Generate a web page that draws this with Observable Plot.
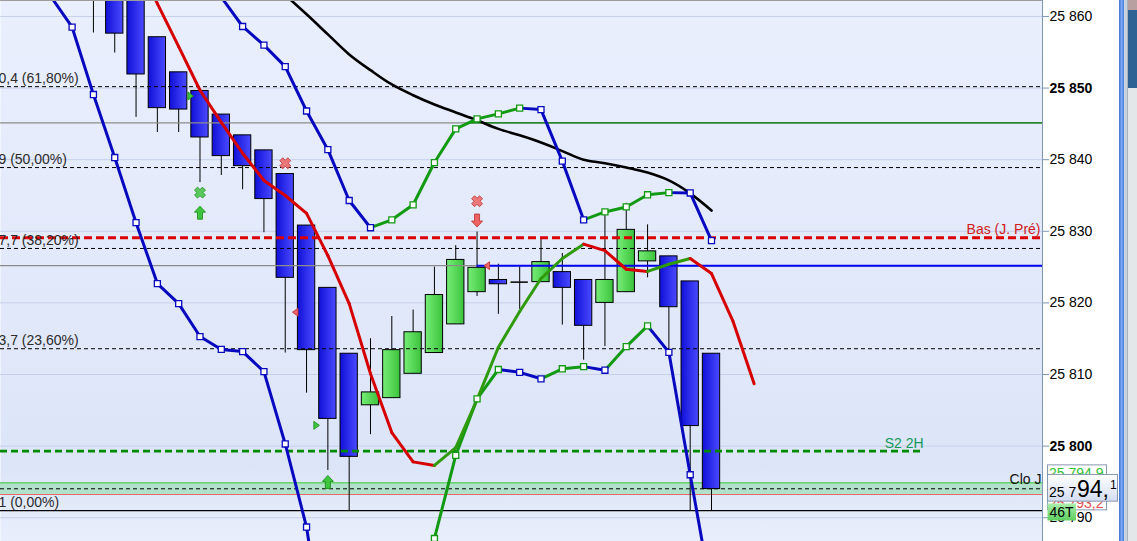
<!DOCTYPE html>
<html>
<head>
<meta charset="utf-8">
<script src="https://cdn.jsdelivr.net/npm/d3@7"></script>
<script src="https://cdn.jsdelivr.net/npm/@observablehq/plot@0.6"></script>
<style>
html,body{margin:0;padding:0;background:#fff;overflow:hidden;}
#wrap{position:relative;width:1137px;height:541px;overflow:hidden;}
#wrap svg{display:block;position:absolute;left:0;top:0;}
.deco{position:absolute;top:0;height:541px;}
</style>
</head>
<body>
<div id="wrap">
<div class="deco" style="left:1119px;width:5px;background:linear-gradient(to right,#3d70d6,#7aa6f2,#4a7ee0);z-index:2"></div>
<div class="deco" style="left:1124px;width:3px;background:#c9d2dc;z-index:2"></div>
<div class="deco" style="left:1127px;width:10px;background:#e4e7ea;border-left:1px solid #a8b0b8;box-sizing:border-box;z-index:2"></div>
<div style="position:absolute;left:1128px;top:10px;width:9px;height:78px;background:#2d6394;z-index:3"></div>
<div style="position:absolute;left:1128px;top:0;width:9px;height:10px;background:#b9a0a0;z-index:3"></div>
</div>
<script>
// ---------- DATA ----------
const candleIndex = [0,1,2,3,4,5,6,7,8,9,10,11,12,13,14,15,16,17,18,19,20,21,22,23,24,25,26,27,28,29];
const openVals  = [25866,25866,25864,25857.1,25852.2,25849.6,25846.3,25843.4,25841.3,25838.0,25830.8,25822.1,25812.9,25805.7,25806.7,25810.1,25813.0,25817.0,25821.5,25823.2,25822.9,25822.9,25824.3,25823.2,25820.0,25821.5,25825.8,25826.5,25823.0,25812.9];
const closeVals = [25863,25857.6,25851.9,25847.2,25847.0,25843.1,25840.5,25839.1,25834.5,25823.5,25813.4,25803.8,25798.5,25807.5,25813.4,25815.9,25821.1,25826.0,25824.9,25822.6,25822.9,25825.7,25822.1,25816.8,25823.2,25830.2,25827.2,25819.4,25802.8,25794.0];
const highVals  = [25867,25867,25865,25857.1,25852.2,25849.6,25846.3,25843.4,25841.3,25838.0,25830.8,25822.1,25812.9,25815.0,25818.1,25819.0,25825.0,25828.0,25829.9,25825.4,25825.0,25828.9,25826.9,25823.2,25832.7,25833.9,25830.9,25826.5,25823.0,25812.9];
const lowVals   = [25857.7,25854.9,25845.9,25843.8,25843.8,25836.8,25837.8,25835.8,25829.8,25813.0,25807.4,25796.6,25791.0,25801.6,25806.7,25810.1,25813.0,25817.0,25820.9,25818.4,25819.1,25822.9,25816.9,25812.0,25813.9,25821.5,25823.5,25813.3,25791.0,25791.0];

const lowerBandStart = -2;
const lowerBand = [25862.8,25858.5,25849.1,25840.3,25831.2,25822.7,25819.9,25815.3,25813.5,25813.2,25810.4,25800.3,25788.7,25769,25767,25770,25775,25783.2,25787.1,25798.7,25806.6,25810.7,25810.3,25809.4,25810.8,25811.1,25810.6,25813.9,25816.8,25813.1,25796.0,25779.4];
const upperBandStart = 6;
const upperBand = [25862.7,25858.6,25856.0,25853.0,25846.8,25841.4,25834.3,25830.5,25831.6,25833.7,25839.6,25844.3,25845.7,25846.4,25847.2,25847.0,25839.8,25831.6,25832.7,25833.4,25835.1,25835.4,25835.35,25828.7];
const maStart = 2;
const maVals = [25867.9,25861.8,25855.8,25849.7,25845.2,25840.9,25837.1,25835.0,25832.5,25826.6,25819.9,25810.1,25801.9,25797.8,25797.3,25799.8,25806.5,25813.8,25818.8,25823.4,25826.2,25828.2,25827.3,25824.7,25824.4,25825.4,25826.2,25824.1,25817.5,25808.7];
const longMaStart = 9;
const longMa = [25863.0,25860.3,25857.5,25854.7,25852.5,25850.5,25849.0,25847.7,25846.6,25845.5,25844.3,25843.4,25842.4,25841.2,25840.0,25839.5,25838.9,25838.2,25837.1,25835.3,25832.9];

const fibValues = [25850.2, 25838.9, 25827.6, 25813.6];
const fibLabels = ["0,4 (61,80%)", "9 (50,00%)", "7,7 (38,20%)", "3,7 (23,60%)"];
const zeroValue = 25791.0;
const zeroLabel = "1 (0,00%)";
const prevLowValue = 25829.1;
const prevLowLabel = "Bas (J. Pré)";
const s2Value = 25799.3;
const s2Label = "S2 2H";
const s2End = 38.95;
const pivotValue = 25845.15;
const pivotGreenStart = 17.7;
const blueLevelValue = 25825.2;
const blueLevelStart = 18;
const closeBandLow = 25793.24;
const closeBandHigh = 25794.87;
const closeDashed = 25794.04;
const closeLabel = "Clo J";

const yTicks = [25790,25800,25810,25820,25830,25840,25850,25860];
const boldTickLabels = ["25 800", "25 850"];
const lastPrice = 25794.1;
const priceMain = "25 7", priceBig = "94,", priceSup = "1";
const greenTag = "25 794,9", redTag = "25 793,2", countTag = "46T";

const markerX    = [4.55, 5, 5, 9, 9.48, 10.46, 11, 18, 18, 18.47];
const markerY    = [25848.9, 25835.4, 25832.6, 25839.5, 25818.7, 25802.9, 25795.0, 25834.2, 25831.5, 25825.2];
const markerKind = ["triRight","cross","arrowUp","cross","triLeft","triRight","arrowUp","cross","arrowDown","triLeft"];
const markerSide = ["buy","buy","buy","sell","sell","buy","buy","sell","sell","sell"];

const xDomain = [-4.36, 44.53];
const yDomain = [25786.68, 25862.23];

// ---------- BUILD ----------
const candles = candleIndex.map((i, k) => ({i, o: openVals[k], c: closeVals[k], h: highVals[k], l: lowVals[k]}));
const BLUE_BAND = "#0808bf", GREEN_BAND = "#139a13", MA_RED = "#d60000", MA_GREEN = "#2f9a0c";

function toSegments(start, vals, up, down) {
  const s = [];
  for (let k = 1; k < vals.length; k++)
    s.push({x1: start + k - 1, y1: vals[k - 1], x2: start + k, y2: vals[k], c: vals[k] >= vals[k - 1] ? up : down});
  return s;
}
function toPoints(start, vals, up, down) {
  return vals.map((v, k) => ({x: start + k, y: v, c: k === 0 ? down : (v >= vals[k - 1] ? up : down)}));
}
const lowerSegs = toSegments(lowerBandStart, lowerBand, GREEN_BAND, BLUE_BAND);
const upperSegs = toSegments(upperBandStart, upperBand, GREEN_BAND, BLUE_BAND);
const maSegs = toSegments(maStart, maVals, MA_GREEN, MA_RED);
const bandPts = toPoints(lowerBandStart, lowerBand, GREEN_BAND, BLUE_BAND).concat(toPoints(upperBandStart, upperBand, GREEN_BAND, BLUE_BAND));
const longPts = longMa.map((v, k) => ({x: longMaStart + k, y: v}));
const fibLevels = fibValues.map((v, k) => ({v, label: fibLabels[k]}));
const markers = markerX.map((x, k) => ({x, y: markerY[k], kind: markerKind[k], side: markerSide[k]}));

const poly = pts => ({draw(ctx) { ctx.moveTo(pts[0][0], pts[0][1]); for (const p of pts.slice(1)) ctx.lineTo(p[0], p[1]); ctx.closePath(); }});
const arrowUp = poly([[0,-6.5],[5.5,-0.5],[2.5,-0.5],[2.5,6.5],[-2.5,6.5],[-2.5,-0.5],[-5.5,-0.5]]);
const arrowDown = poly([[0,6.5],[5.5,0.5],[2.5,0.5],[2.5,-6.5],[-2.5,-6.5],[-2.5,0.5],[-5.5,0.5]]);
const triRight = poly([[-2.5,-4],[3,0],[-2.5,4]]);
const triLeft = poly([[2.5,-4],[-3,0],[2.5,4]]);
const crossPts = (() => {
  const a = 2.1, L = 5.6, r = Math.SQRT1_2;
  const p = [[a,-L],[a,-a],[L,-a],[L,a],[a,a],[a,L],[-a,L],[-a,a],[-L,a],[-L,-a],[-a,-a],[-a,-L]];
  return p.map(([x, y]) => [(x - y) * r, (x + y) * r]);
})();
const crossSym = poly(crossPts);
const symOf = {arrowUp, arrowDown, triRight, triLeft, cross: crossSym};
const fillOf = {buy: "#3fc63f", sell: "#ec6464"};
const strokeOf = {buy: "#1f8f1f", sell: "#c23a3a"};

const fmt = d3.formatLocale({decimal: ",", thousands: " ", grouping: [3], currency: ["", ""]}).format(",");

const markerMarks = Object.keys(symOf).map(kind => Plot.dot(markers.filter(m => m.kind === kind), {
  x: "x", y: "y", symbol: symOf[kind], r: 5,
  fill: d => fillOf[d.side], stroke: d => strokeOf[d.side], strokeWidth: 0.9,
  fillOpacity: kind === "cross" ? 0.85 : 1, clip: true
}));

const plot = Plot.plot({
  width: 1137, height: 541,
  marginLeft: 0, marginRight: 95, marginTop: 0, marginBottom: 0,
  x: {domain: xDomain, axis: null},
  y: {domain: yDomain, axis: null},
  color: {type: "identity"},
  style: {fontFamily: "'Liberation Sans', Arial, sans-serif", fontSize: "14px", background: "#fff", overflow: "hidden"},
  marks: [
    Plot.frame({fill: "url(#bgGrad)", stroke: "none"}),
    Plot.ruleY(yTicks, {stroke: "#c6d0ea", strokeWidth: 1}),
    // close-of-day band
    Plot.rect([{a: closeBandLow, b: closeBandHigh}], {y1: "a", y2: "b", fill: "#b2e0ca"}),
    Plot.ruleY([closeBandHigh], {stroke: "#3ccc3c", strokeWidth: 1}),
    Plot.ruleY([closeBandLow], {stroke: "#e46a6a", strokeWidth: 1}),
    // candles
    Plot.ruleX(candles, {x: "i", y1: "l", y2: "h", stroke: "#000", strokeWidth: 1, clip: true}),
    Plot.rect(candles.filter(d => d.c < d.o), {x1: d => d.i - 0.5, x2: d => d.i + 0.5, y1: "o", y2: "c", insetLeft: 2, insetRight: 2, fill: "url(#gBlue)", stroke: "#000", strokeWidth: 1, clip: true}),
    Plot.rect(candles.filter(d => d.c > d.o), {x1: d => d.i - 0.5, x2: d => d.i + 0.5, y1: "o", y2: "c", insetLeft: 2, insetRight: 2, fill: "url(#gGreen)", stroke: "#000", strokeWidth: 1, clip: true}),
    Plot.ruleY(candles.filter(d => d.c === d.o), {y: "o", x1: d => d.i - 0.5, x2: d => d.i + 0.5, insetLeft: 2, insetRight: 2, stroke: "#000", strokeWidth: 1.5}),
    // levels
    Plot.ruleY([closeDashed], {stroke: "#000", strokeWidth: 1, strokeDasharray: "4,3"}),
    Plot.ruleY(fibLevels, {y: "v", stroke: "#000", strokeWidth: 1, strokeDasharray: "4,3"}),
    Plot.ruleY([zeroValue], {stroke: "#000", strokeWidth: 1.2}),
    Plot.ruleY([pivotValue], {stroke: "#8c8c8c", strokeWidth: 1.2}),
    Plot.ruleY([{v: pivotValue, a: pivotGreenStart, b: xDomain[1]}], {y: "v", x1: "a", x2: "b", stroke: "#008000", strokeWidth: 1.2}),
    Plot.ruleY([blueLevelValue], {stroke: "#8c8c8c", strokeWidth: 1.2}),
    Plot.ruleY([{v: blueLevelValue, a: blueLevelStart, b: xDomain[1]}], {y: "v", x1: "a", x2: "b", stroke: "#0000f0", strokeWidth: 2}),
    Plot.ruleY([prevLowValue], {stroke: "#dd0000", strokeWidth: 3.2, strokeDasharray: "8,4"}),
    Plot.ruleY([{v: s2Value, a: xDomain[0], b: s2End}], {y: "v", x1: "a", x2: "b", stroke: "#008a00", strokeWidth: 2.6, strokeDasharray: "7,4"}),
    // labels
    Plot.text(fibLevels, {y: "v", text: "label", frameAnchor: "left", textAnchor: "start", dx: -2, dy: -8, fill: "#2b2b2b", fontSize: 14}),
    Plot.text([zeroValue], {y: d => d, text: () => zeroLabel, frameAnchor: "left", textAnchor: "start", dx: -2, dy: -8, fill: "#2b2b2b", fontSize: 14}),
    Plot.text([prevLowValue], {y: d => d, text: () => prevLowLabel, frameAnchor: "right", textAnchor: "end", dx: -2, dy: -8, fill: "#d21c1c", fontSize: 14}),
    Plot.text([{v: s2Value, e: s2End}], {x: "e", y: "v", text: () => s2Label, textAnchor: "end", dx: 0, dy: -8, fill: "#15985a", fontSize: 14}),
    Plot.text([closeDashed], {y: d => d, text: () => closeLabel, frameAnchor: "right", textAnchor: "end", dx: -1, dy: -9, fill: "#111", fontSize: 14}),
    // moving averages and bands
    Plot.line(longPts, {x: "x", y: "y", stroke: "#000", strokeWidth: 2.6, curve: "catmull-rom", clip: true}),
    Plot.link(lowerSegs, {x1: "x1", y1: "y1", x2: "x2", y2: "y2", stroke: "c", strokeWidth: 3, strokeLinecap: "round", clip: true}),
    Plot.link(upperSegs, {x1: "x1", y1: "y1", x2: "x2", y2: "y2", stroke: "c", strokeWidth: 3, strokeLinecap: "round", clip: true}),
    Plot.link(maSegs, {x1: "x1", y1: "y1", x2: "x2", y2: "y2", stroke: "c", strokeWidth: 3, strokeLinecap: "round", clip: true}),
    Plot.dot(bandPts, {x: "x", y: "y", symbol: "square", r: 3.4, fill: "#fff", stroke: "c", strokeWidth: 1.3, clip: true}),
    ...markerMarks,
    // right axis
    Plot.axisY({anchor: "right", ticks: yTicks, tickFormat: fmt, tickSize: 6, tickPadding: 1, fontSize: 14})
  ]
});

const svg = d3.select(plot);
svg.insert("defs", ":first-child").html(`
  <linearGradient id="bgGrad" x1="0" y1="0" x2="0" y2="1">
    <stop offset="0" stop-color="#e9effd"/><stop offset="0.5" stop-color="#e2e9fa"/>
    <stop offset="0.86" stop-color="#dce5f8"/><stop offset="1" stop-color="#e8eefb"/>
  </linearGradient>
  <linearGradient id="gBlue" x1="0" y1="0" x2="1" y2="0">
    <stop offset="0" stop-color="#1010d8"/><stop offset="1" stop-color="#4a4aff"/>
  </linearGradient>
  <linearGradient id="gGreen" x1="0" y1="0" x2="1" y2="0">
    <stop offset="0" stop-color="#76ee76"/><stop offset="1" stop-color="#3cc23c"/>
  </linearGradient>
  <linearGradient id="gBox" x1="0" y1="0" x2="0" y2="1">
    <stop offset="0" stop-color="#ffffff"/><stop offset="1" stop-color="#d3ddf3"/>
  </linearGradient>
  <linearGradient id="gCount" x1="0" y1="0" x2="0" y2="1">
    <stop offset="0" stop-color="#abeeab"/><stop offset="1" stop-color="#5fcf5f"/>
  </linearGradient>`);

svg.select('g[aria-label="y-axis tick"]').attr("stroke", "#7d97b3");
svg.select('g[aria-label="y-axis tick label"]').attr("fill", "#000");
svg.selectAll('g[aria-label="y-axis tick label"] text').each(function () {
  if (boldTickLabels.includes(this.textContent.trim())) d3.select(this).attr("font-weight", "bold");
});

const xs = plot.scale("x"), ys = plot.scale("y");
const xRight = xs.range[1];
svg.append("line").attr("x1", xRight + 0.5).attr("x2", xRight + 0.5).attr("y1", 0).attr("y2", 541).attr("stroke", "#7d97b3");
svg.append("line").attr("x1", 0).attr("x2", xRight).attr("y1", 0.5).attr("y2", 0.5).attr("stroke", "#9c9c9c");

// price tags on the right axis
const py = ys.apply(lastPrice);
const bx = xRight + 5;
const g = svg.append("g").attr("font-family", "'Liberation Sans', Arial, sans-serif").attr("text-anchor", "start");
g.append("rect").attr("x", bx + 0.5).attr("y", py - 23).attr("width", 59).attr("height", 45).attr("fill", "#fff").attr("stroke", "#8898b0");
g.append("text").attr("x", bx + 2).attr("y", py - 10).attr("font-size", 14).attr("fill", "#33c133").text(greenTag);
g.append("text").attr("x", bx + 2).attr("y", py + 20).attr("font-size", 14).attr("fill", "#e05050").text(redTag);
g.append("rect").attr("x", bx + 0.5).attr("y", py - 13.4).attr("width", 70).attr("height", 26.7).attr("fill", "url(#gBox)").attr("stroke", "#8898b0");
g.append("text").attr("x", bx + 2).attr("y", py + 9).attr("font-size", 14).attr("fill", "#000").text(priceMain);
g.append("text").attr("x", bx + 30).attr("y", py + 9.5).attr("font-size", 23).attr("fill", "#000").text(priceBig);
g.append("text").attr("x", bx + 63).attr("y", py + 1).attr("font-size", 12).attr("fill", "#000").text(priceSup);
g.append("rect").attr("x", bx + 0.5).attr("y", py + 15.6).attr("width", 28.5).attr("height", 17).attr("fill", "url(#gCount)").attr("stroke", "none");
g.append("text").attr("x", bx + 14.5).attr("y", py + 29).attr("font-size", 14).attr("text-anchor", "middle").attr("fill", "#000").text(countTag);

document.getElementById("wrap").prepend(plot);
</script>
</body>
</html>
